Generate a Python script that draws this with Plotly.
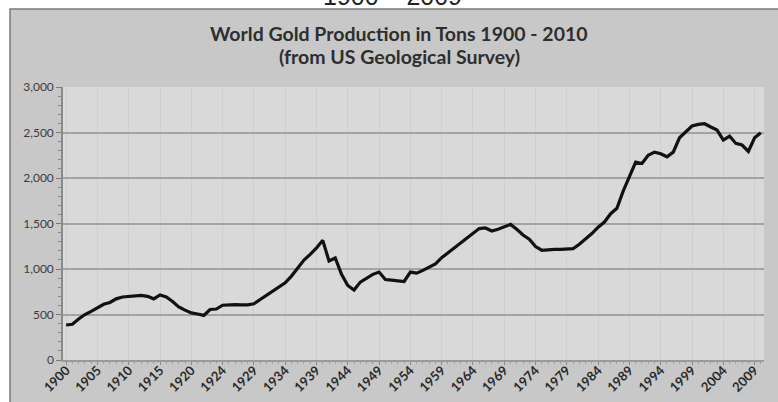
import plotly.graph_objects as go

# Category labels shown on the x axis (every 5th category)
tick_labels = ["1900", "1905", "1910", "1915", "1920", "1924", "1929", "1934",
               "1939", "1944", "1949", "1954", "1959", "1964", "1969", "1974",
               "1979", "1984", "1989", "1994", "1999", "2004", "2009"]

# World gold production (tons), one value per category (112 categories)
production = [
    385, 393, 450, 500, 535, 578, 612, 632, 672, 692,
    700, 704, 710, 700, 672, 715, 694, 643, 584, 548,
    518, 506, 490, 555, 560, 602, 606, 608, 605, 605,
    617, 664, 712, 757, 801, 848, 922, 1014, 1099, 1161,
    1231, 1315, 1088, 1121, 941, 819, 768, 856, 900, 941,
    966, 885, 878, 874, 863, 966, 955, 985, 1022, 1055,
    1124, 1179, 1234, 1282, 1337, 1392, 1444, 1451, 1418, 1437,
    1462, 1490, 1437, 1374, 1327, 1246, 1206, 1213, 1215, 1215,
    1217, 1224, 1272, 1327, 1390, 1460, 1516, 1608, 1667, 1855,
    2010, 2175, 2160, 2250, 2284, 2266, 2233, 2284, 2442, 2505,
    2571, 2589, 2596, 2560, 2527, 2417, 2461, 2380, 2362, 2292,
    2442, 2497,
]

x_idx = list(range(len(production)))
tick_pos = x_idx[::5][:len(tick_labels)]

fig = go.Figure()
fig.add_trace(go.Scatter(
    x=x_idx, y=production, mode="lines",
    line=dict(color="#111111", width=3.2, shape="linear"),
    hoverinfo="skip", showlegend=False,
))

W, H = 778, 402
L, R, T, B = 63, 14, 87, 42
pw, ph = W - L - R, H - T - B

def px_x(p):
    return (p - L) / pw

def px_y(p):
    return (H - B - p) / ph

shapes = [
    dict(type="rect", xref="paper", yref="paper", layer="below",
         x0=px_x(10), x1=1.2, y0=-0.4, y1=px_y(9),
         fillcolor="#c8c8c8", line=dict(color="#7a7a7a", width=1.5)),
    dict(type="rect", xref="paper", yref="paper", layer="below",
         x0=0, x1=1, y0=0, y1=1,
         fillcolor="#d9d9d9", line=dict(width=0)),
]

annotations = [
    dict(text="1900 – 2009", xref="paper", yref="paper",
         x=px_x(392), y=px_y(11.5), xanchor="center", yanchor="bottom",
         showarrow=False, font=dict(family="Liberation Sans, Arial", size=25, color="#222222")),
    dict(text="<b>World Gold Production in Tons 1900 - 2010</b>", xref="paper", yref="paper",
         x=px_x(399), y=px_y(33), xanchor="center", yanchor="middle",
         showarrow=False, font=dict(family="Lato", size=19.5, color="#2e2e2e")),
    dict(text="<b>(from US Geological Survey)</b>", xref="paper", yref="paper",
         x=px_x(399), y=px_y(57), xanchor="center", yanchor="middle",
         showarrow=False, font=dict(family="Lato", size=19.5, color="#2e2e2e")),
]

fig.update_layout(
    width=W, height=H,
    margin=dict(l=L, r=R, t=T, b=B, pad=0),
    paper_bgcolor="#ffffff",
    plot_bgcolor="rgba(0,0,0,0)",
    shapes=shapes,
    annotations=annotations,
    showlegend=False,
    xaxis=dict(
        automargin=False,
        range=[-0.5, len(production) - 0.5],
        tickmode="array", tickvals=tick_pos, ticktext=tick_labels,
        tickangle=-45,
        tickfont=dict(family="Lato", size=13, color="#2a2a2a", weight="bold"),
        ticks="outside", ticklen=3, tickcolor="#8a8a8a",
        ticklabelstandoff=-7,
        showline=True, linecolor="#9a9a9a", linewidth=1.5,
        showgrid=True, gridcolor="rgba(190,190,190,0.35)", gridwidth=1,
        minor=dict(dtick=1, ticks="outside", ticklen=2, tickcolor="#a0a0a0", showgrid=False),
        zeroline=False,
    ),
    yaxis=dict(
        automargin=False,
        range=[0, 3000],
        tickmode="linear", tick0=0, dtick=500,
        tickformat=",",
        tickfont=dict(family="Lato", size=12, color="#3c3c3c"),
        ticks="outside", ticklen=5, tickcolor="#7a7a7a",
        showline=True, linecolor="#8a8a8a", linewidth=1.5,
        showgrid=True, gridcolor="#a3a3a3", gridwidth=1.5,
        minor=dict(dtick=100, ticks="outside", ticklen=3, tickcolor="#8a8a8a", showgrid=False),
        zeroline=False,
    ),
)

fig.write_html("out.html", config={"displayModeBar": False},
               post_script="document.body.style.margin='0';")
